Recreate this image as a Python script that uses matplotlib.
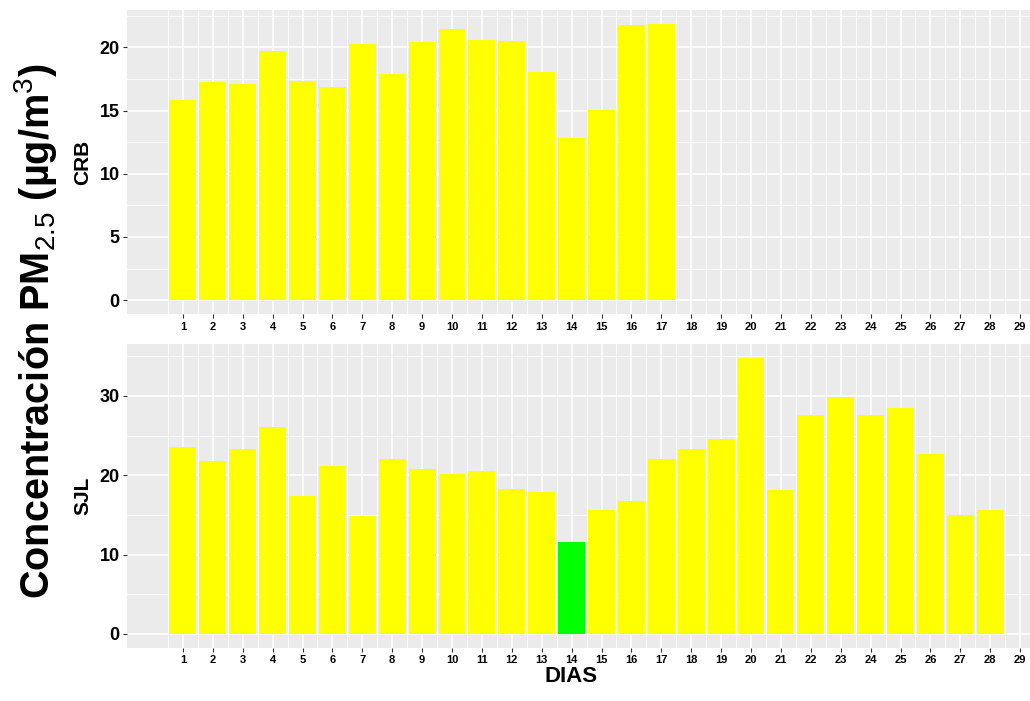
import matplotlib
matplotlib.use("Agg")
import matplotlib.pyplot as plt
import numpy as np

plt.rcParams['font.family'] = ['Liberation Sans', 'DejaVu Sans']
plt.rcParams['mathtext.fontset'] = 'custom'
plt.rcParams['mathtext.rm'] = 'Liberation Sans'
plt.rcParams['mathtext.it'] = 'Liberation Sans'
plt.rcParams['mathtext.bf'] = 'Liberation Sans:bold'
plt.rcParams['mathtext.default'] = 'rm'

# ---- data ----
days_crb = list(range(1, 18))
crb = [15.83, 17.28, 17.12, 19.68, 17.34, 16.89, 20.29, 17.89, 20.44, 21.47,
       20.58, 20.50, 18.05, 12.85, 15.04, 21.79, 21.87]
days_sjl = list(range(1, 29))
sjl = [23.55, 21.83, 23.25, 26.10, 17.33, 21.20, 14.90, 22.06, 20.82, 20.15,
       20.48, 18.21, 17.88, 11.62, 15.57, 16.75, 22.05, 23.25, 24.56, 34.80,
       18.13, 27.53, 29.80, 27.62, 28.50, 22.71, 15.02, 15.57]
day_ticks = list(range(1, 30))
panels = ["CRB", "SJL"]
threshold = 12.5
YELLOW = "#FFFF00"
GREEN = "#00FF00"

W, H = 1030, 701
fig = plt.figure(figsize=(W / 100, H / 100), dpi=100)

def fx(px):
    return px / W

def fy(py):
    return 1 - py / H

left_px, right_px = 127.3, 1030
top_box = (10, 314)
bot_box = (344, 647.7)
ax_top = fig.add_axes([fx(left_px), fy(top_box[1]), fx(right_px - left_px), (top_box[1] - top_box[0]) / H])
ax_bot = fig.add_axes([fx(left_px), fy(bot_box[1]), fx(right_px - left_px), (bot_box[1] - bot_box[0]) / H])

def style(ax, days, vals, yticks, yminor, label, box):
    ax.set_facecolor("#EBEBEB")
    for s in ax.spines.values():
        s.set_visible(False)
    cols = [GREEN if v < threshold else YELLOW for v in vals]
    ax.bar(days, vals, width=0.9, color=cols, zorder=3)
    vmax = max(vals)
    ax.set_ylim(-0.05 * vmax, 1.05 * vmax)
    ax.set_xlim(-0.86, 29.33)
    ax.set_xticks(day_ticks)
    ax.set_xticklabels([str(d) for d in day_ticks], fontsize=8, fontweight="bold")
    ax.set_xticks([d + 0.5 for d in range(0, 29)], minor=True)
    ax.set_yticks(yticks)
    ax.set_yticklabels([str(t) for t in yticks], fontsize=13, fontweight="bold")
    ax.set_yticks(yminor, minor=True)
    ax.grid(which="major", color="white", linewidth=1.1, zorder=1)
    ax.grid(which="minor", color="white", linewidth=0.55, zorder=1)
    ax.set_axisbelow(True)
    ax.tick_params(which="major", length=3, width=0.8, color="#333333", pad=2.5,
                   labelcolor="black")
    ax.tick_params(which="minor", length=0)
    fig.text(fx(83), fy((box[0] + box[1]) / 2), label, rotation=90,
             ha="center", va="center", fontsize=15, fontweight="bold")

style(ax_top, days_crb, crb, [0, 5, 10, 15, 20], [2.5, 7.5, 12.5, 17.5, 22.5], panels[0], top_box)
style(ax_bot, days_sjl, sjl, [0, 10, 20, 30], [5, 15, 25, 35], panels[1], bot_box)

fig.text(fx(36), fy(331), r"Concentración PM$_{2.5}$ (µg/m$^{3}$)", rotation=90,
         ha="center", va="center", fontsize=28.5, fontweight="bold")
fig.text(fx(571), fy(677), "DIAS", ha="center", va="center", fontsize=16,
         fontweight="bold")

fig.savefig("out.png", dpi=100)
